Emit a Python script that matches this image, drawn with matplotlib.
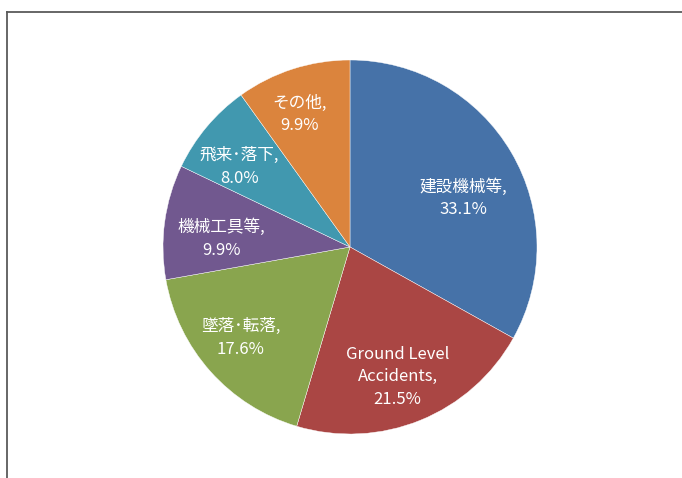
#!/usr/bin/env python
#
# Pie chart of accident categories (shares in percent).

import matplotlib
matplotlib.use("Agg")
import matplotlib.pyplot as plt
import numpy as np

plt.rcParams['font.family'] = ['Noto Sans CJK JP', 'DejaVu Sans']

categories = ["建設機械等", "Ground Level\nAccidents", "墜落･転落", "機械工具等", "飛来･落下", "その他"]
shares = [33.1, 21.5, 17.6, 9.9, 8.0, 9.9]
colors = ["#4672A8", "#AA4644", "#89A54E", "#71588F", "#4198AF", "#DB843D"]

# label radius (fraction of pie radius) and angle nudge in degrees, per slice
label_r = [0.66, 0.74, 0.76, 0.69, 0.73, 0.76]
label_nudge = [-7, -2, -2, 4, 4, 3]

W, H = 682, 478
fig = plt.figure(figsize=(W / 100, H / 100), dpi=100)

# frame: only top and left edges are visible
bg = fig.add_axes([7 / W, 0, 1 - 7 / W, 1 - 12 / H])
bg.set_xticks([])
bg.set_yticks([])
for side in ("right", "bottom"):
    bg.spines[side].set_visible(False)
for side in ("left", "top"):
    bg.spines[side].set_color("#5a5a5a")
    bg.spines[side].set_linewidth(1.3)
bg.patch.set_alpha(0)

cx, cy, r = 350, 247, 187
ax = fig.add_axes([(cx - r) / W, (H - cy - r) / H, 2 * r / W, 2 * r / H])
wedges, _ = ax.pie(shares, colors=colors, startangle=90, counterclock=False,
                   radius=1, wedgeprops=dict(edgecolor="white", linewidth=0.3))
ax.set_xlim(-1, 1)
ax.set_ylim(-1, 1)
ax.set_aspect("equal")

for w, name, val, rr, nd in zip(wedges, categories, shares, label_r, label_nudge):
    mid = np.deg2rad((w.theta1 + w.theta2) / 2 + nd)
    ax.text(rr * np.cos(mid), rr * np.sin(mid), f"{name},\n{val:.1f}%",
            ha="center", va="center", color="white", fontsize=12, linespacing=1.42)

plt.savefig("out.png", dpi=100)
